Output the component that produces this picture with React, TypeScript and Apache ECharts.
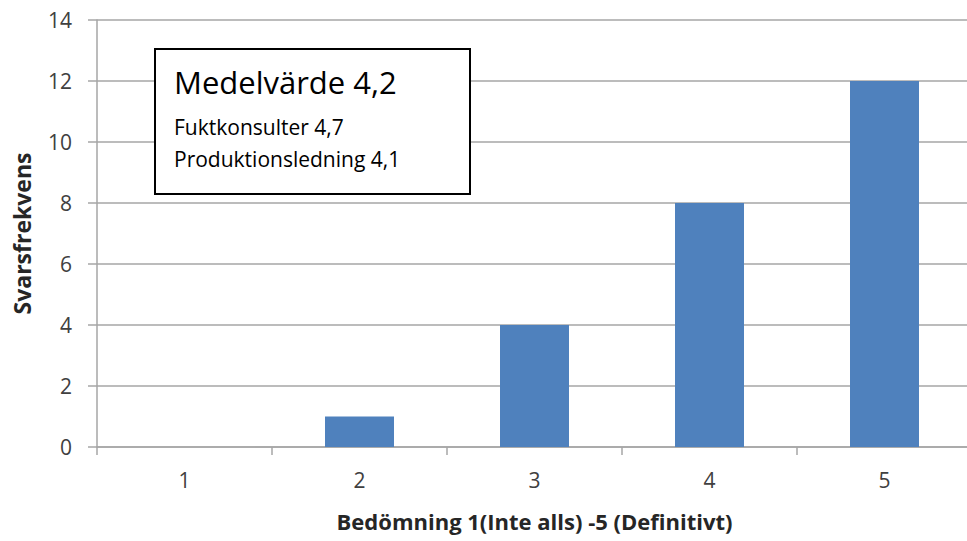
import React, { useEffect, useRef } from "react";
import * as echarts from "echarts";

const categories = ["1", "2", "3", "4", "5"];
const values = [0, 1, 4, 8, 12];
const yTicks = { min: 0, max: 14, interval: 2 };
const xTitle = "Bedömning 1(Inte alls) -5 (Definitivt)";
const yTitle = "Svarsfrekvens";
const boxLines = ["Medelvärde 4,2", "Fuktkonsulter 4,7", "Produktionsledning 4,1"];

const FONT = "'Open Sans', 'Noto Sans', sans-serif";

export default function App() {
  const ref = useRef<HTMLDivElement>(null);
  useEffect(() => {
    if (!ref.current) return;
    const chart = echarts.init(ref.current, undefined, { renderer: "svg" });
    chart.setOption({
      animation: false,
      backgroundColor: "#ffffff",
      grid: { left: 97, width: 875, top: 20, height: 427, containLabel: false, outerBoundsMode: "none" },
      xAxis: {
        type: "category",
        data: categories,
        axisLine: { lineStyle: { color: "#a6a6a6", width: 1.5 } },
        axisTick: { show: true, length: 8, lineStyle: { color: "#a6a6a6", width: 1.5 } },
        axisLabel: { color: "#404040", fontSize: 21, fontFamily: FONT, margin: 22 },
        name: xTitle,
        nameLocation: "middle",
        nameGap: 63,
        nameTextStyle: { color: "#262626", fontSize: 22, fontWeight: "bold", fontFamily: FONT },
      },
      yAxis: {
        type: "value",
        min: yTicks.min,
        max: yTicks.max,
        interval: yTicks.interval,
        axisLine: { show: true, lineStyle: { color: "#a6a6a6", width: 1.5 } },
        axisTick: { show: true, length: 9, lineStyle: { color: "#a6a6a6", width: 1.5 } },
        splitLine: { lineStyle: { color: "#a6a6a6", width: 1.5 } },
        axisLabel: { color: "#404040", fontSize: 21, fontFamily: FONT, margin: 25 },
        name: yTitle,
        nameLocation: "middle",
        nameGap: 64,
        nameRotate: 90,
        nameTextStyle: { color: "#262626", fontSize: 23, fontWeight: "bold", fontFamily: FONT },
      },
      series: [
        {
          type: "bar",
          data: values,
          barWidth: 69,
          itemStyle: { color: "#4f81bd" },
        },
      ],
      graphic: [
        {
          type: "rect",
          shape: { x: 155, y: 49, width: 315, height: 145 },
          style: { fill: "#ffffff", stroke: "#000000", lineWidth: 2 },
          z: 10,
        },
        {
          type: "text",
          x: 174,
          y: 82,
          style: { text: boxLines[0], fontSize: 31, fontFamily: FONT, fill: "#000000", verticalAlign: "middle" },
          z: 11,
        },
        {
          type: "text",
          x: 174,
          y: 127,
          style: { text: boxLines[1], fontSize: 21, fontFamily: FONT, fill: "#000000", verticalAlign: "middle" },
          z: 11,
        },
        {
          type: "text",
          x: 174,
          y: 159,
          style: { text: boxLines[2], fontSize: 21, fontFamily: FONT, fill: "#000000", verticalAlign: "middle" },
          z: 11,
        },
      ],
    });
    return () => chart.dispose();
  }, []);
  return <div ref={ref} style={{ width: 967, height: 541, position: "fixed", left: 0, top: 0 }} />;
}
